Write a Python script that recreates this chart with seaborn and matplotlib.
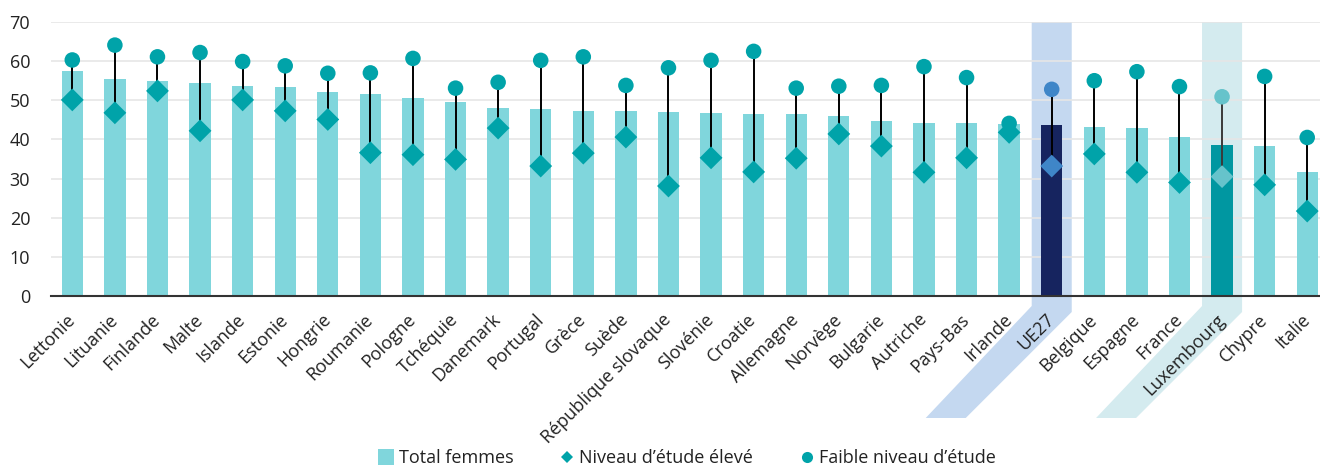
import numpy as np
import pandas as pd
import matplotlib
matplotlib.use("Agg")
import matplotlib.pyplot as plt
from matplotlib.patches import Polygon
from matplotlib.lines import Line2D
import seaborn as sns

# Taux par pays (%)
pays = ["Lettonie", "Lituanie", "Finlande", "Malte", "Islande", "Estonie", "Hongrie",
        "Roumanie", "Pologne", "Tchéquie", "Danemark", "Portugal", "Grèce", "Suède",
        "République slovaque", "Slovénie", "Croatie", "Allemagne", "Norvège", "Bulgarie",
        "Autriche", "Pays-Bas", "Irlande", "UE27", "Belgique", "Espagne", "France",
        "Luxembourg", "Chypre", "Italie"]
total_femmes = [57.6, 55.4, 54.8, 54.3, 53.6, 53.4, 52.2, 51.6, 50.5, 49.5, 48.0, 47.9,
                47.3, 47.3, 47.1, 46.7, 46.5, 46.4, 45.9, 44.7, 44.2, 44.2, 44.0, 43.6,
                43.1, 42.8, 40.5, 38.5, 38.2, 31.7]
niveau_eleve = [50.1, 46.8, 52.4, 42.2, 50.1, 47.3, 45.1, 36.6, 36.1, 34.9, 42.9, 33.2,
                36.5, 40.6, 28.1, 35.3, 31.7, 35.2, 41.4, 38.3, 31.6, 35.3, 41.8, 33.2,
                36.3, 31.6, 29.0, 30.5, 28.4, 21.7]
niveau_faible = [60.3, 64.1, 61.1, 62.2, 59.9, 58.8, 56.9, 57.0, 60.7, 53.1, 54.6, 60.2,
                 61.1, 53.8, 58.3, 60.2, 62.5, 53.1, 53.6, 53.8, 58.6, 55.8, 44.1, 52.8,
                 55.0, 57.3, 53.5, 50.9, 56.1, 40.5]
y_ticks = [0, 10, 20, 30, 40, 50, 60, 70]

# Palette
BAR = "#80D6DC"
MARK = "#00A3A9"
UE_BAR, UE_MARK, UE_BAND = "#16245F", "#3F86C8", "#C4D8F0"
LU_BAR, LU_MARK, LU_BAND = "#0097A1", "#66C3CB", "#D4EBEF"

bar_colors = {p: BAR for p in pays}
mark_colors = {p: MARK for p in pays}
bar_colors["UE27"], mark_colors["UE27"] = UE_BAR, UE_MARK
bar_colors["Luxembourg"], mark_colors["Luxembourg"] = LU_BAR, LU_MARK

df = pd.DataFrame({"pays": pays, "total": total_femmes,
                   "eleve": niveau_eleve, "faible": niveau_faible})
df["pos"] = np.arange(len(df))

sns.set_theme(style="white")
plt.rcParams["font.family"] = ["Open Sans", "DejaVu Sans"]

W, H, DPI = 1320, 468, 100
FS = 13
fig = plt.figure(figsize=(W / DPI, H / DPI), dpi=DPI)
ax = fig.add_axes([51 / W, 1 - 296 / H, (W - 51) / W, (296 - 22) / H])

sns.barplot(data=df, x="pos", y="total", hue="pays", palette=bar_colors,
            width=0.5, legend=False, saturation=1, ax=ax, zorder=2,
            native_scale=True, linewidth=0)

# Connecteurs entre les deux niveaux d'étude
for _, r in df.iterrows():
    lc = "#3a3a3a" if r.pays == "Luxembourg" else "black"
    ax.plot([r.pos, r.pos], [r.eleve, r.faible], color=lc, lw=1.4, zorder=3)

sns.scatterplot(data=df, x="pos", y="eleve", hue="pays", palette=mark_colors,
                marker="D", s=135, linewidth=0, legend=False, ax=ax, zorder=4)
sns.scatterplot(data=df, x="pos", y="faible", hue="pays", palette=mark_colors,
                marker="o", s=125, linewidth=0, legend=False, ax=ax, zorder=4)

ax.set_xlim(-0.5, 29.3)
ax.set_ylim(0, 70)
ax.set_yticks(y_ticks)
ax.set_xticks(df["pos"])
ax.set_xticklabels(pays, rotation=45, ha="right", va="center",
                   rotation_mode="anchor", fontsize=FS, color="#222222")
ax.tick_params(axis="x", length=0, pad=15)
ax.tick_params(axis="y", length=0, pad=15, labelsize=FS, labelcolor="#222222")
ax.set_xlabel("")
ax.set_ylabel("")
ax.yaxis.grid(True, color="#E6E6E6", lw=1.2, zorder=1)
ax.set_axisbelow(True)
for s in ["left", "right", "top"]:
    ax.spines[s].set_visible(False)
ax.spines["bottom"].set_color("#333333")
ax.spines["bottom"].set_linewidth(1.5)
ax.spines["bottom"].set_zorder(5)
ax.set_zorder(1)
ax.patch.set_alpha(0)

# Bandeaux de mise en évidence (colonne + prolongement le long de l'étiquette)
fig.canvas.draw()
for name, col in [("UE27", UE_BAND), ("Luxembourg", LU_BAND)]:
    i = pays.index(name)
    xl, ytop = ax.transData.transform((i - 0.47, 70))
    xr, _ = ax.transData.transform((i + 0.47, 70))
    y_l = H - 306
    y_r = H - 312
    y_b = H - 418
    poly = Polygon([(xl, ytop), (xr, ytop), (xr, y_r), (xr - 106, y_b),
                    (xl - 106, y_b), (xl, y_l)], closed=True,
                   facecolor=col, edgecolor="none", transform=None, zorder=0)
    fig.patches.append(poly)

handles = [
    Line2D([], [], marker="s", linestyle="none", markersize=11, color=BAR, markeredgewidth=0),
    Line2D([], [], marker="D", linestyle="none", markersize=6, color=MARK, markeredgewidth=0),
    Line2D([], [], marker="o", linestyle="none", markersize=8, color=MARK, markeredgewidth=0),
]
labels = ["Total femmes", "Niveau d’étude élevé", "Faible niveau d’étude"]
fig.legend(handles, labels, loc="center", bbox_to_anchor=(688 / W, 1 - 458 / H),
           ncol=3, frameon=False, fontsize=FS, handlelength=0.7, handletextpad=0.35,
           columnspacing=2.6, labelcolor="#222222")

fig.savefig("out.png", dpi=DPI)
